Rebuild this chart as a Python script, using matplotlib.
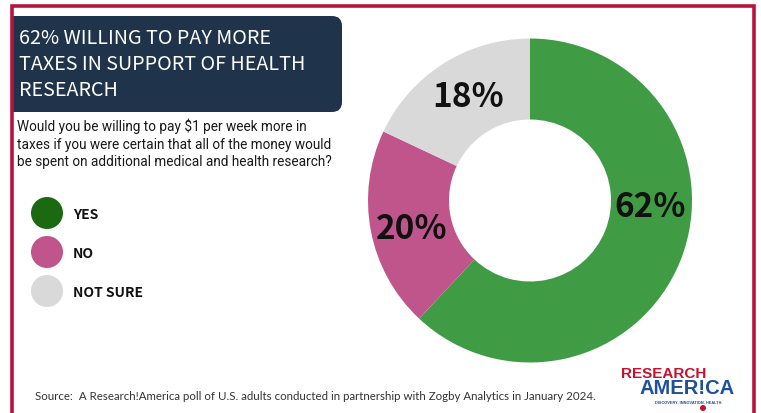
import matplotlib.pyplot as plt
from matplotlib.patches import FancyBboxPatch, Circle, Rectangle

# dati del sondaggio
categories = ['YES', 'NO', 'NOT SURE']
shares = [62, 20, 18]
pie_colors = ['#409c44', '#c0558b', '#d9d9d9']
legend_colors = ['#1b6a12', '#c0558b', '#d9d9d9']

title_lines = ['62% WILLING TO PAY MORE', 'TAXES IN SUPPORT OF HEALTH', 'RESEARCH']
question = ('Would you be willing to pay $1 per week more in\n'
            'taxes if you were certain that all of the money would\n'
            'be spent on additional medical and health research?')
source = ('Source:  A Research!America poll of U.S. adults conducted in '
          'partnership with Zogby Analytics in January 2024.')

W, H = 761, 414
narrow = ['Noto Sans CJK JP', 'DejaVu Sans']
arial = ['Liberation Sans', 'DejaVu Sans']

fig = plt.figure(figsize=(W / 100, H / 100), dpi=100)
fig.patch.set_facecolor('white')

# asse di sfondo in pixel
bg = fig.add_axes([0, 0, 1, 1])
bg.set_xlim(0, W)
bg.set_ylim(H, 0)
bg.axis('off')

# box del titolo
navy = '#1f344b'
bg.add_patch(FancyBboxPatch((13, 17), 329, 96, boxstyle='round,pad=0,rounding_size=10',
                            fc=navy, ec='none'))
bg.add_patch(Rectangle((13, 17), 20, 96, fc=navy, ec='none'))
for i, line in enumerate(title_lines):
    bg.text(19, 38 + i * 26.5, line, color='white', fontsize=14.2, family=narrow,
            va='center', ha='left')

# cornice rossa
red = '#b8133f'
bg.plot([12, 12, 753.5, 753.5], [H + 5, 7, 7, H + 5], color=red, lw=2.6,
        solid_joinstyle='miter', clip_on=False)

bg.text(17, 144, question, fontsize=9.85, family=['Roboto', 'DejaVu Sans'],
        color='#1a1a1a', va='center', ha='left', linespacing=1.3)

# legenda
for i, (cat, col) in enumerate(zip(categories, legend_colors)):
    y = 214 + i * 39
    bg.add_patch(Circle((47, y), 16, fc=col, ec='none'))
    bg.text(73, y + 1, cat, fontsize=10, family=narrow,
            fontweight='bold', color='#111111', va='center', ha='left')

bg.text(35, 397, source, fontsize=8.3, family=['Lato', 'DejaVu Sans'],
        color='#333333', va='center', ha='left')

# logo
bg.text(621, 374, 'RESEARCH', fontsize=11, family=arial, fontweight='bold',
        color='#c8102e', va='center', ha='left')
bg.text(640, 389, 'AMER!CA', fontsize=14.5, family=arial, fontweight='bold',
        color='#1f4f9f', va='center', ha='left')
bg.text(689, 403, 'DISCOVERY. INNOVATION. HEALTH.', fontsize=2.8, family=arial,
        fontweight='bold', color='#1f4f9f', va='center', ha='center')
bg.add_patch(Circle((703, 409), 3, fc='#c8102e', ec='none'))

# ciambella
cx, cy, r = 530, 201.5, 162
ax = fig.add_axes([(cx - r) / W, (H - cy - r) / H, 2 * r / W, 2 * r / H])
ax.pie(shares, colors=pie_colors, startangle=90, counterclock=False,
       wedgeprops=dict(width=0.5, edgecolor='none'))
ax.set_xlim(-1, 1)
ax.set_ylim(-1, 1)
ax.set_aspect('equal')
ax.axis('off')

label_pos = [(0.74, -0.04), (-0.73, -0.17), (-0.38, 0.64)]
for val, (x, y) in zip(shares, label_pos):
    ax.text(x, y, f'{val}%', fontsize=24, family=narrow,
            fontweight='bold', color='#111111', va='center', ha='center')

fig.savefig('out.png', dpi=100, facecolor='white')
